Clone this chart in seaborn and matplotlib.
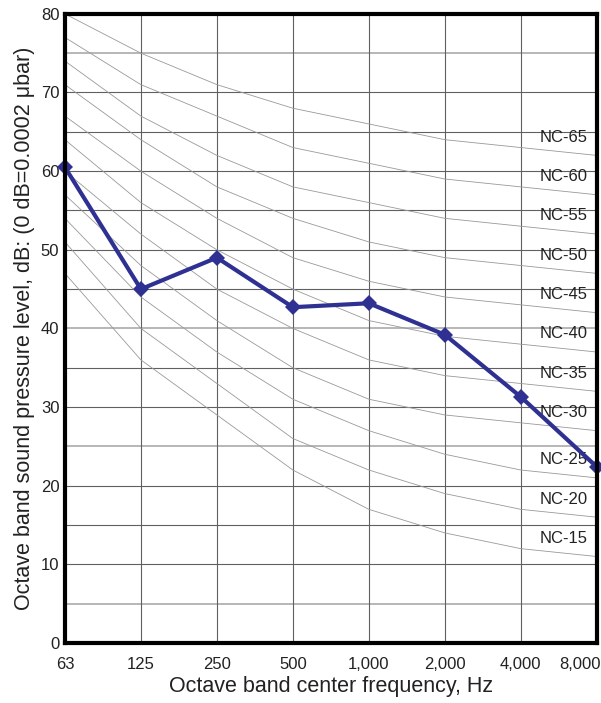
import matplotlib
matplotlib.use('Agg')
import matplotlib.pyplot as plt
import matplotlib.transforms as mtransforms
import numpy as np
import pandas as pd
import seaborn as sns

# octave band centre frequencies
freq_labels = ['63', '125', '250', '500', '1,000', '2,000', '4,000', '8,000']

# NC rating curves (dB per octave band)
nc_15 = [47, 36, 29, 22, 17, 14, 12, 11]
nc_20 = [51, 40, 33, 26, 22, 19, 17, 16]
nc_25 = [54, 44, 37, 31, 27, 24, 22, 21]
nc_30 = [57, 48, 41, 35, 31, 29, 28, 27]
nc_35 = [60, 52, 45, 40, 36, 34, 33, 32]
nc_40 = [64, 56, 50, 45, 41, 39, 38, 37]
nc_45 = [67, 60, 54, 49, 46, 44, 43, 42]
nc_50 = [71, 64, 58, 54, 51, 49, 48, 47]
nc_55 = [74, 67, 62, 58, 56, 54, 53, 52]
nc_60 = [77, 71, 67, 63, 61, 59, 58, 57]
nc_65 = [80, 75, 71, 68, 66, 64, 63, 62]
nc_names = ['NC-15', 'NC-20', 'NC-25', 'NC-30', 'NC-35', 'NC-40',
            'NC-45', 'NC-50', 'NC-55', 'NC-60', 'NC-65']

# measured spectrum
measured = [60.5, 45.0, 49.0, 42.7, 43.2, 39.2, 31.3, 22.4]

sns.set_style('white')
plt.rcParams['font.family'] = ['Liberation Sans', 'DejaVu Sans']

fig = plt.figure(figsize=(6.01, 7.03), dpi=100)
ax = fig.add_axes([0.108, 0.0853, 0.885, 0.895])

pos = np.arange(len(freq_labels))

# grid
for v in range(0, 81, 5):
    light = v in (75, 40, 25, 5)
    ax.axhline(v, color='#aaaaaa' if light else '#606060', lw=1.2 if light else 0.8, zorder=1)
for p in pos:
    ax.axvline(p, color='#606060', lw=0.8, zorder=1)

curves = [nc_15, nc_20, nc_25, nc_30, nc_35, nc_40, nc_45, nc_50, nc_55, nc_60, nc_65]
nc = pd.DataFrame({
    'band': np.tile(pos, len(curves)),
    'level': np.concatenate(curves),
    'curve': np.repeat(nc_names, len(pos)),
})
sns.lineplot(data=nc, x='band', y='level', units='curve', estimator=None,
             color='#999999', lw=0.6, ax=ax, zorder=2)

for name, c in zip(nc_names, curves):
    ax.text(6.88, c[-1] + 2.3, name, ha='right', va='center', fontsize=12,
            color='#222222', zorder=3)

meas = pd.DataFrame({'band': pos, 'level': measured})
sns.lineplot(data=meas, x='band', y='level', color='#2e3192', lw=3,
             marker='D', markersize=8, markeredgewidth=0, ax=ax, zorder=5,
             clip_on=False)

ax.set_xlim(0, 7)
ax.set_ylim(0, 80)
ax.set_xticks(pos)
ax.set_xticklabels(freq_labels)
ax.set_yticks(range(0, 81, 10))
ax.tick_params(axis='both', labelsize=12, colors='#222222', length=0)
ax.tick_params(axis='x', pad=10)
ax.tick_params(axis='y', pad=4)

# last x label sits flush with the right edge
last = ax.get_xticklabels()[-1]
last.set_horizontalalignment('right')
last.set_transform(last.get_transform() + mtransforms.ScaledTranslation(3 / 72, 0, fig.dpi_scale_trans))

for s in ax.spines.values():
    s.set_linewidth(3)
    s.set_color('black')
    s.set_zorder(6)

ax.set_xlabel('Octave band center frequency, Hz', fontsize=15.5, color='#222222', labelpad=3)
ax.set_ylabel('Octave band sound pressure level, dB: (0 dB=0.0002 \u03bcbar)',
              fontsize=15.5, color='#222222', labelpad=4)

fig.savefig('out.png', dpi=100)
